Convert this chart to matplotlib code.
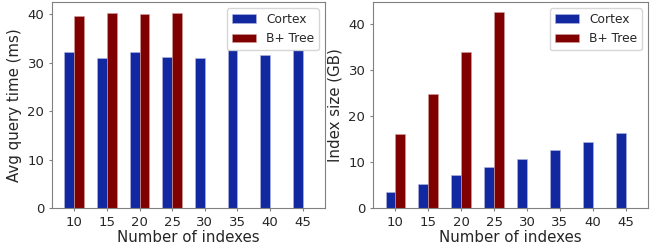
import matplotlib
matplotlib.use("Agg")
import matplotlib.pyplot as plt
import numpy as np

categories = ["10", "15", "20", "25", "30", "35", "40", "45"]
cortex_time = [32.2, 31.0, 32.2, 31.1, 30.9, 32.5, 31.6, 32.6]
btree_time = [39.7, 40.3, 40.1, 40.3, 0, 0, 0, 0]
cortex_size = [3.5, 5.3, 7.1, 8.9, 10.7, 12.6, 14.4, 16.3]
btree_size = [16.1, 24.9, 33.9, 42.6, 0, 0, 0, 0]

BLUE = "#1228a0"
RED = "#800000"
TXT = "#262626"
SPINE = "#808080"

plt.rcParams["font.family"] = "DejaVu Sans"
plt.rcParams["text.color"] = TXT
plt.rcParams["axes.labelcolor"] = TXT
plt.rcParams["xtick.color"] = TXT
plt.rcParams["ytick.color"] = TXT

fig = plt.figure(figsize=(6.52, 2.46), dpi=100)
ax1 = fig.add_axes([52/652, 38/246, 273/652, 206/246])
ax2 = fig.add_axes([373/652, 38/246, 275/652, 206/246])

x = np.arange(len(categories))
w = 0.3
for ax, c, b, ylabel in [(ax1, cortex_time, btree_time, "Avg query time (ms)"),
                         (ax2, cortex_size, btree_size, "Index size (GB)")]:
    ax.bar(x - w/2, c, w, color=BLUE, edgecolor="#b0b8e0", linewidth=0.4, label="Cortex")
    ax.bar(x + w/2, b, w, color=RED, edgecolor="#d0a0a0", linewidth=0.4, label="B+ Tree")
    ax.set_xticks(x)
    ax.set_xticklabels(categories)
    ax.set_xlabel("Number of indexes", fontsize=10.8, labelpad=1)
    ax.set_ylabel(ylabel, fontsize=10.8, labelpad=4)
    ax.tick_params(labelsize=9.5, length=2.5, color=SPINE, pad=3)
    for s in ax.spines.values():
        s.set_color(SPINE)
        s.set_linewidth(0.8)
    ax.legend(loc="upper right", fontsize=8.8, fancybox=True, framealpha=0.8,
              edgecolor="#cccccc")
    ax.set_yticks([0, 10, 20, 30, 40])

ax1.set_ylim(0, 42.5)
ax2.set_ylim(0, 44.8)

fig.savefig("out.png", dpi=100)
